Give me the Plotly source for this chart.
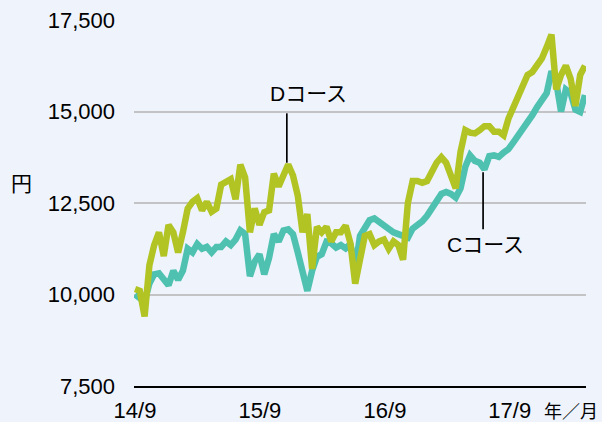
import pandas as pd
import plotly.graph_objects as go

# --- data (bi-weekly readings, starting 2014-09-01) ---
start_date = "2014-09-01"
n_points = 95
d_course = [
    10150, 10100, 9400, 10800, 11350, 11700, 11050, 11900, 11700, 11150,
    11700, 12350, 12530, 12630, 12300, 12530, 12260, 12350, 13000, 13100,
    13150, 12600, 13550, 13200, 11700, 12350, 11900, 12250, 12300, 13300,
    12950, 13250, 13550, 13250, 12700, 11700, 12200, 10700, 11850, 11700,
    11850, 11450, 11700, 11700, 11880, 11400, 10300, 10950, 11600, 11650,
    11350, 11450, 11500, 11250, 11450, 11350, 10950, 12500, 13100, 13100,
    13050, 13100, 13400, 13600, 13750, 13600, 13250, 12900, 13900, 14490,
    14420, 14400, 14490, 14600, 14600, 14450, 14450, 14350, 14800, 15100,
    15350, 15700, 16000, 16080, 16300, 16450, 16760, 17100, 15600, 16000,
    16250, 15900, 15150, 16000, 16250,
]
c_course = [
    10000, 9900, 9800, 10300, 10550, 10580, 10400, 10250, 10650, 10400,
    10650, 11250, 11150, 11380, 11250, 11300, 11150, 11300, 11300, 11450,
    11350, 11500, 11750, 11650, 10500, 10900, 11100, 10550, 11000, 11650,
    11450, 11750, 11780, 11650, 11150, 10700, 10100, 10650, 11030, 11100,
    11440, 11400, 11280, 11350, 11260, 11380, 10700, 11600, 11850, 12030,
    12080, 11980, 11880, 11810, 11700, 11650, 11600, 11550, 11800, 11890,
    12000, 12150, 12350, 12600, 12750, 12800, 12750, 12650, 12900, 13490,
    13800, 13650, 13600, 13420, 13780, 13800, 13760, 13880, 13970, 14150,
    14330, 14500, 14680, 14900, 15120, 15280, 15500, 16100, 15800, 15000,
    15600, 15500, 15050, 14990, 15450,
]
x_tick_dates = ["2014-09-01", "2015-09-01", "2016-09-01", "2017-09-01"]
x_tick_labels = ["14/9", "15/9", "16/9", "17/9"]
y_ticks = [7500, 10000, 12500, 15000, 17500]

dates = pd.date_range(start_date, periods=n_points, freq="14D")

TEAL = "#4fc1b0"
LIME = "#b2c423"
BG = "#eef3fc"
FONT = "Liberation Sans, Arial, Noto Sans CJK JP, sans-serif"

fig = go.Figure()
fig.add_trace(go.Scatter(x=dates, y=c_course, mode="lines", name="Cコース",
                         line=dict(color=TEAL, width=6.5)))
fig.add_trace(go.Scatter(x=dates, y=d_course, mode="lines", name="Dコース",
                         line=dict(color=LIME, width=6.5)))

# leader lines
fig.add_shape(type="line", x0="2015-11-19", x1="2015-11-19", y0=14950, y1=13600,
              xref="x", yref="y", line=dict(color="black", width=1.7))
fig.add_shape(type="line", x0="2017-06-15", x1="2017-06-15", y0=13340, y1=11780,
              xref="x", yref="y", line=dict(color="black", width=1.7))

ann_font = dict(family=FONT, size=21, color="black")
fig.add_annotation(x="2015-09-24", y=15480, text="Dコース", showarrow=False,
                   xanchor="left", yanchor="middle", font=ann_font)
fig.add_annotation(x="2017-02-24", y=11370, text="Cコース", showarrow=False,
                   xanchor="left", yanchor="middle", font=ann_font)
fig.add_annotation(xref="paper", yref="paper", x=-0.248, y=0.552, text="円",
                   showarrow=False, xanchor="center", yanchor="middle", font=ann_font)
fig.add_annotation(xref="paper", yref="paper", x=0.903, y=-0.072, text="年／月",
                   showarrow=False, xanchor="left", yanchor="middle",
                   font=dict(family=FONT, size=18, color="black"))

fig.update_layout(
    width=602, height=422,
    margin=dict(l=134, r=16, t=20, b=36, autoexpand=False),
    paper_bgcolor=BG, plot_bgcolor=BG,
    showlegend=False,
    font=dict(family=FONT, size=22, color="black"),
)
fig.update_xaxes(
    type="date", range=["2014-08-29", "2018-04-12"], automargin=False,
    tickvals=x_tick_dates, ticktext=x_tick_labels,
    showgrid=False, zeroline=False, showline=True, linecolor="black", linewidth=2,
    ticks="", ticklabelstandoff=4,
    tickfont=dict(size=22),
)
fig.update_yaxes(
    range=[7500, 17500], tickvals=y_ticks, tickformat=",", automargin=False,
    showgrid=True, gridcolor="#c3c3c6", gridwidth=1.5, zeroline=False,
    ticks="", ticklabelstandoff=18, tickfont=dict(size=22),
)

fig.write_html(
    "out.html",
    config={"displayModeBar": False},
    post_script="document.body.style.margin='0';document.body.style.overflow='hidden';"
                "document.body.style.background='" + BG + "';",
)
